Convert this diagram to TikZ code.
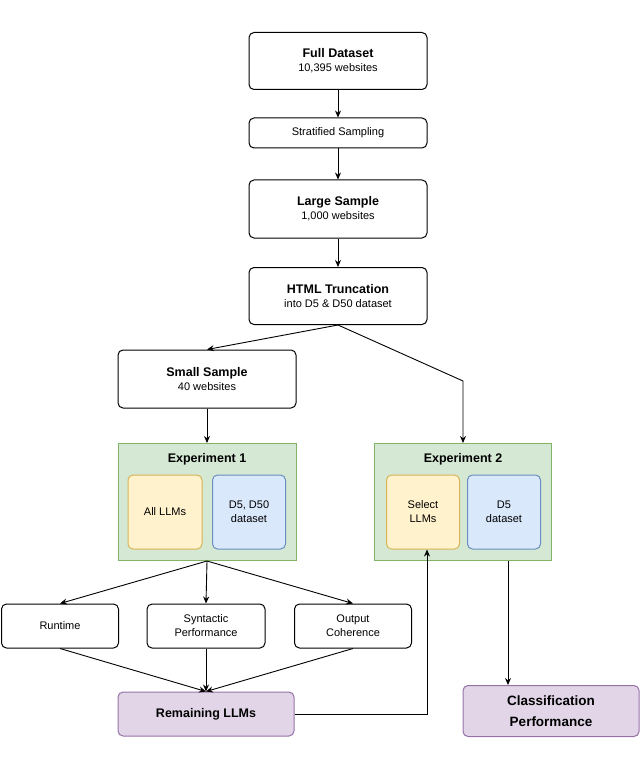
\documentclass[tikz,border=0pt]{standalone}
\usepackage{fontspec}
\setmainfont{Liberation Sans}
\usetikzlibrary{arrows.meta}
\definecolor{grfill}{HTML}{D5E8D4}\definecolor{grline}{HTML}{82B366}
\definecolor{yfill}{HTML}{FFF2CC}\definecolor{yline}{HTML}{D6B656}
\definecolor{bfill}{HTML}{DAE8FC}\definecolor{bline}{HTML}{6C8EBF}
\definecolor{pfill}{HTML}{E1D5E7}\definecolor{pline}{HTML}{9673A6}
\begin{document}
\begin{tikzpicture}[x=1pt,y=-1pt,
  box/.style={draw,rounded corners=5pt,line width=1pt,align=center,inner sep=0pt,font=\fontsize{11}{14}\selectfont},
  ttl/.style={font=\fontsize{12.5}{15}\selectfont\bfseries},
  arr/.style={-{Stealth[length=7pt,width=6pt]},line width=0.9pt},
  ln/.style={line width=0.9pt}]
\useasboundingbox (0,0) rectangle (640,767);
\node[box,minimum width=178pt,minimum height=57pt] (full) at (338,61) {{\bfseries\fontsize{12.5}{15}\selectfont Full Dataset}\\10,395 websites};
\node[box,minimum width=178pt,minimum height=30pt] (strat) at (338,133) {Stratified Sampling};
\node[box,minimum width=178pt,minimum height=58pt] (large) at (338,209) {{\bfseries\fontsize{12.5}{15}\selectfont Large Sample}\\1,000 websites};
\node[box,minimum width=178pt,minimum height=57pt] (html) at (338,296) {{\bfseries\fontsize{12.5}{15}\selectfont HTML Truncation}\\into D5 \& D50 dataset};
\node[box,minimum width=178pt,minimum height=58pt] (small) at (207,379) {{\bfseries\fontsize{12.5}{15}\selectfont Small Sample}\\40 websites};
% experiments
\node[draw=grline,fill=grfill,line width=1pt,minimum width=178pt,minimum height=117pt] (e1) at (207,502) {};
\node[ttl,anchor=north] (e1t) at (207,450) {Experiment 1};
\node[box,draw=yline,fill=yfill,minimum width=74pt,minimum height=74pt] (all) at (165,512) {All LLMs};
\node[box,draw=bline,fill=bfill,minimum width=73pt,minimum height=74pt] (d550) at (249,512) {D5, D50\\dataset};
\node[draw=grline,fill=grfill,line width=1pt,minimum width=177pt,minimum height=117pt] (e2) at (463,502) {};
\node[ttl,anchor=north] (e2t) at (463,450) {Experiment 2};
\node[box,draw=yline,fill=yfill,minimum width=73pt,minimum height=74pt] (sel) at (423,512) {Select\\LLMs};
\node[box,draw=bline,fill=bfill,minimum width=73pt,minimum height=74pt] (d5) at (504,512) {D5\\dataset};
% metrics
\node[box,minimum width=117pt,minimum height=44pt] (run) at (60,626) {Runtime};
\node[box,minimum width=118pt,minimum height=44pt] (syn) at (206,626) {Syntactic\\Performance};
\node[box,minimum width=117pt,minimum height=44pt] (out) at (353,626) {Output\\Coherence};
\node[box,draw=pline,fill=pfill,minimum width=176pt,minimum height=44pt,font=\fontsize{12.5}{15}\selectfont\bfseries] (rem) at (206,714) {Remaining LLMs};
\node[box,draw=pline,fill=pfill,minimum width=176pt,minimum height=51pt,font=\fontsize{13.5}{21}\selectfont\bfseries] (cls) at (551,711) {Classification\\Performance};
\coordinate (bend) at (463,381);
\coordinate (fb) at (427,714);
% connectors
\draw[arr] (full) -- (strat);
\draw[arr] (strat) -- (large);
\draw[arr] (large) -- (html);
\draw[arr] (html.south) -- (small.north);
\draw[arr] (html.south) -- (bend) -- (e2.north);
\draw[arr] (small) -- (e1);
\draw[arr] (e1.south) -- (run.north);
\draw[arr] (e1.south) -- (syn.north);
\draw[arr] (e1.south) -- (out.north);
\draw[arr] (run.south) -- (rem.north);
\draw[arr] (syn.south) -- (rem.north);
\draw[arr] (out.south) -- (rem.north);
\draw[arr] (rem.east) -- (fb) -- (fb |- sel.south);
\draw[arr] (e2.south -| 508,0) -- (cls.north -| 508,0);
\end{tikzpicture}
\end{document}
